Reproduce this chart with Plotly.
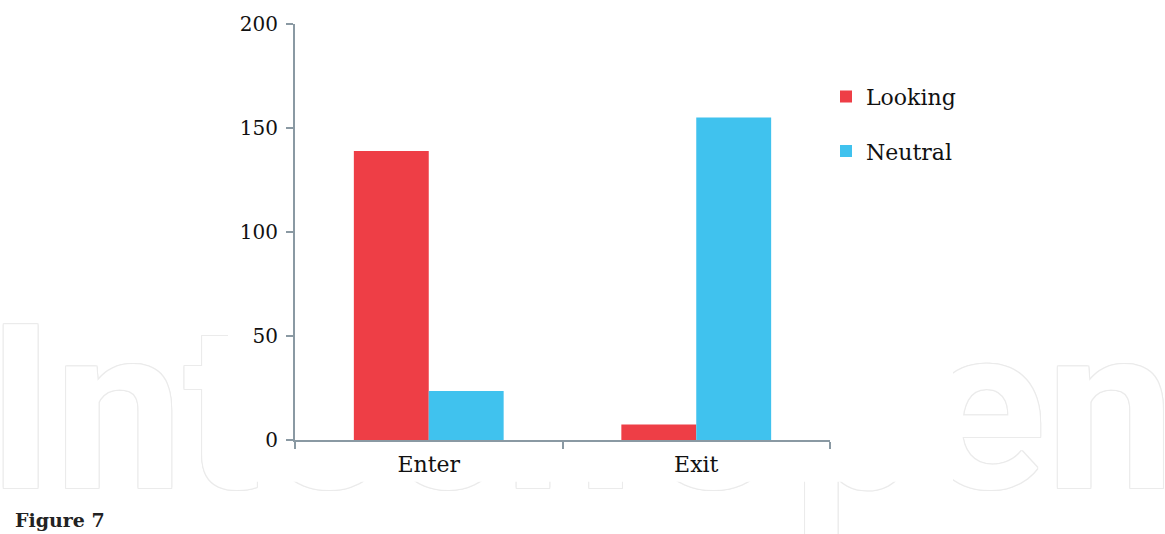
import plotly.graph_objects as go

categories = ["Enter", "Exit"]
looking = [139, 7.5]
neutral = [23.5, 155]
y_ticks = [0, 50, 100, 150, 200]

red = "#EE3E46"
blue = "#40C2EE"
axis_col = "#8A99A3"
serif = "Georgia, 'DejaVu Serif', 'Liberation Serif', serif"

fig = go.Figure()
fig.add_trace(go.Bar(x=categories, y=looking, name="Looking", marker_color=red,
                     marker_line_width=0, legendgroup="a"))
fig.add_trace(go.Bar(x=categories, y=neutral, name="Neutral", marker_color=blue,
                     marker_line_width=0, legendgroup="b"))

W, H = 1165, 534
L, R, T, B = 295, 335, 21, 94
pw, ph = W - L - R, H - T - B

def px_x(p):
    return (p - L) / pw

def px_y(p):
    return (H - B - p) / ph

fig.update_layout(
    width=W, height=H,
    margin=dict(l=L, r=R, t=T, b=B),
    paper_bgcolor="white",
    plot_bgcolor="rgba(0,0,0,0)",
    barmode="group",
    bargap=0.44,
    bargroupgap=0,
    font=dict(family=serif, color="#111111"),
    showlegend=True,
    legend=dict(x=px_x(826), y=px_y(73), xanchor="left", yanchor="top",
                font=dict(size=22, family=serif), traceorder="grouped",
                tracegroupgap=23, itemwidth=30, bgcolor="rgba(0,0,0,0)"),
    xaxis=dict(type="category", range=[-0.5, 1.5], showline=True, linecolor=axis_col,
               linewidth=2, ticks="outside", tickson="boundaries", ticklen=7,
               tickwidth=2, tickcolor=axis_col, showgrid=False,
               tickfont=dict(size=22, family=serif), ticklabelstandoff=4),
    yaxis=dict(range=[0, 200], tickvals=y_ticks, showline=True, linecolor=axis_col,
               linewidth=2, ticks="outside", ticklen=7, tickwidth=2, tickcolor=axis_col,
               showgrid=False, zeroline=False, tickfont=dict(size=20, family=serif),
               ticklabelstandoff=4),
)

# outlined watermark behind the chart
wm_color = "#EBEBEB"
shadow = ", ".join(f"{dx}px {dy}px 0 {wm_color}" for dx, dy in
                   [(-1, 0), (1, 0), (0, -1), (0, 1), (-1, -1), (1, 1), (-1, 1), (1, -1)])
wm_box = dict(x0=px_x(-6), x1=px_x(1168), y0=px_y(522), y1=px_y(262))
try:
    fig.add_shape(type="rect", xref="paper", yref="paper", **wm_box,
                  line_width=0, fillcolor="rgba(0,0,0,0)", layer="below",
                  label=dict(text="IntechOpen",
                             font=dict(size=230, color="white", shadow=shadow, weight=700,
                                       family="Roboto, 'Open Sans', sans-serif"),
                             textposition="middle center"))
except Exception:
    fig.add_shape(type="rect", xref="paper", yref="paper", **wm_box,
                  line_width=0, fillcolor="rgba(0,0,0,0)", layer="below",
                  label=dict(text="<b>IntechOpen</b>",
                             font=dict(size=230, color="#F4F4F4",
                                       family="Roboto, 'Open Sans', sans-serif"),
                             textposition="middle center"))

# white panel of the chart image covering part of the watermark
fig.add_shape(type="rect", xref="x domain", yref="y domain",
              x0=px_x(228), x1=px_x(953), y0=px_y(482), y1=px_y(0),
              line_width=0, fillcolor="white", layer="below")

fig.add_annotation(text="<b>Figure 7</b>", xref="paper", yref="paper",
                   x=px_x(13), y=px_y(534), xanchor="left", yanchor="bottom",
                   showarrow=False, font=dict(size=19, family=serif, color="#222222"))

fig.write_html("out.html")
